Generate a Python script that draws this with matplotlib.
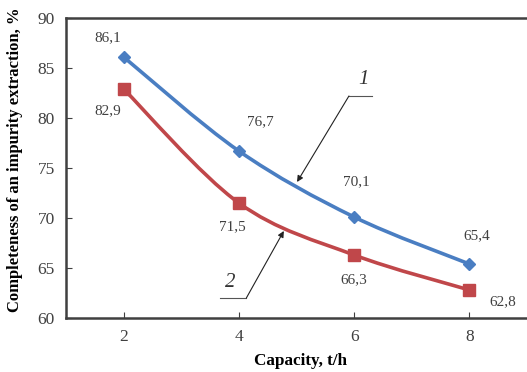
import matplotlib
matplotlib.use("Agg")
import matplotlib.pyplot as plt
from matplotlib.path import Path
from matplotlib.patches import PathPatch

# ── data ────────────────────────────────────────────────────────────────────
capacity = [2, 4, 6, 8]
curve1 = [86.1, 76.7, 70.1, 65.4]
curve2 = [82.9, 71.5, 66.3, 62.8]
labels1 = ["86,1", "76,7", "70,1", "65,4"]
labels2 = ["82,9", "71,5", "66,3", "62,8"]

# label offsets (points) relative to each marker
off1 = [(-11.5, 13.7), (15.8, 20.9), (1.4, 25.2), (5, 20.2)]
off2 = [(-11.5, -15.8), (-5, -17.3), (0, -18), (23.8, -8.6)]

C_BLUE = "#4A7EC2"
C_RED = "#C0474A"
C_AX = "#404040"
SERIF = ["Liberation Serif", "DejaVu Serif"]


def smooth_path(xs, ys, t=1 / 6):
    # Catmull-Rom style cubic Bezier through the given points
    verts = [(xs[0], ys[0])]
    codes = [Path.MOVETO]
    n = len(xs)
    for i in range(n - 1):
        x0, y0 = (xs[i - 1], ys[i - 1]) if i > 0 else (xs[i], ys[i])
        x1, y1 = xs[i], ys[i]
        x2, y2 = xs[i + 1], ys[i + 1]
        x3, y3 = (xs[i + 2], ys[i + 2]) if i + 2 < n else (x2, y2)
        c1 = (x1 + (x2 - x0) * t, y1 + (y2 - y0) * t)
        c2 = (x2 - (x3 - x1) * t, y2 - (y3 - y1) * t)
        verts += [c1, c2, (x2, y2)]
        codes += [Path.CURVE4] * 3
    return Path(verts, codes)


fig = plt.figure(figsize=(5.27, 3.72), dpi=100)
ax = fig.add_axes([0.1252, 0.1452, 0.8748, 0.8064])
ax.set_xlim(1, 9)
ax.set_ylim(60, 90)

for ys, col, mk, ms, labs, offs in [
    (curve1, C_BLUE, "D", 6.5, labels1, off1),
    (curve2, C_RED, "s", 9, labels2, off2),
]:
    ax.add_patch(PathPatch(smooth_path(capacity, ys), fc="none", ec=col,
                           lw=2.6, zorder=2))
    ax.plot(capacity, ys, ls="none", marker=mk, ms=ms, color=col, zorder=3)
    for x, y, s, o in zip(capacity, ys, labs, offs):
        ax.annotate(s, (x, y), xytext=o, textcoords="offset points",
                    ha="center", va="center", fontsize=11, color=C_AX,
                    family=SERIF)

# ── curve numbers with leader lines ─────────────────────────────────────────
ax.plot([5.91, 6.31], [82.2, 82.2], color="#555555", lw=0.8)
ax.annotate("", xy=(5.01, 73.6), xytext=(5.91, 82.2),
            arrowprops=dict(arrowstyle="-|>", color="#222222", lw=0.8,
                            mutation_scale=9, shrinkA=0, shrinkB=0))
ax.text(6.16, 83.9, "1", fontsize=15, style="italic", color="#333333",
        ha="center", va="center", family=SERIF)

ax.plot([3.67, 4.13], [62.0, 62.0], color="#555555", lw=0.8)
ax.annotate("", xy=(4.78, 68.7), xytext=(4.13, 62.0),
            arrowprops=dict(arrowstyle="-|>", color="#222222", lw=0.8,
                            mutation_scale=9, shrinkA=0, shrinkB=0))
ax.text(3.85, 63.5, "2", fontsize=15, style="italic", color="#333333",
        ha="center", va="center", family=SERIF)

# ── axes styling ────────────────────────────────────────────────────────────
ax.set_xticks(capacity)
ax.set_yticks([60, 65, 70, 75, 80, 85, 90])
ax.tick_params(direction="in", length=4, width=0.8, colors=C_AX,
               labelsize=12.5, pad=8)
for lab in ax.get_xticklabels() + ax.get_yticklabels():
    lab.set_family(SERIF)
for side in ["left", "bottom", "top"]:
    ax.spines[side].set_color(C_AX)
    ax.spines[side].set_linewidth(1.8)
ax.spines["right"].set_visible(False)

ax.set_xlabel("Capacity, t/h", fontsize=12.3, fontweight="bold",
              family=SERIF)
ax.set_ylabel("Completeness of an impurity extraction, %", fontsize=12,
              fontweight="bold", family=SERIF)
ax.xaxis.set_label_coords((301 - 66) / 461, -0.117)
ax.yaxis.set_label_coords(-(66 - 23) / 461, (318 - 160) / 300)

fig.savefig("out.png", dpi=100)
